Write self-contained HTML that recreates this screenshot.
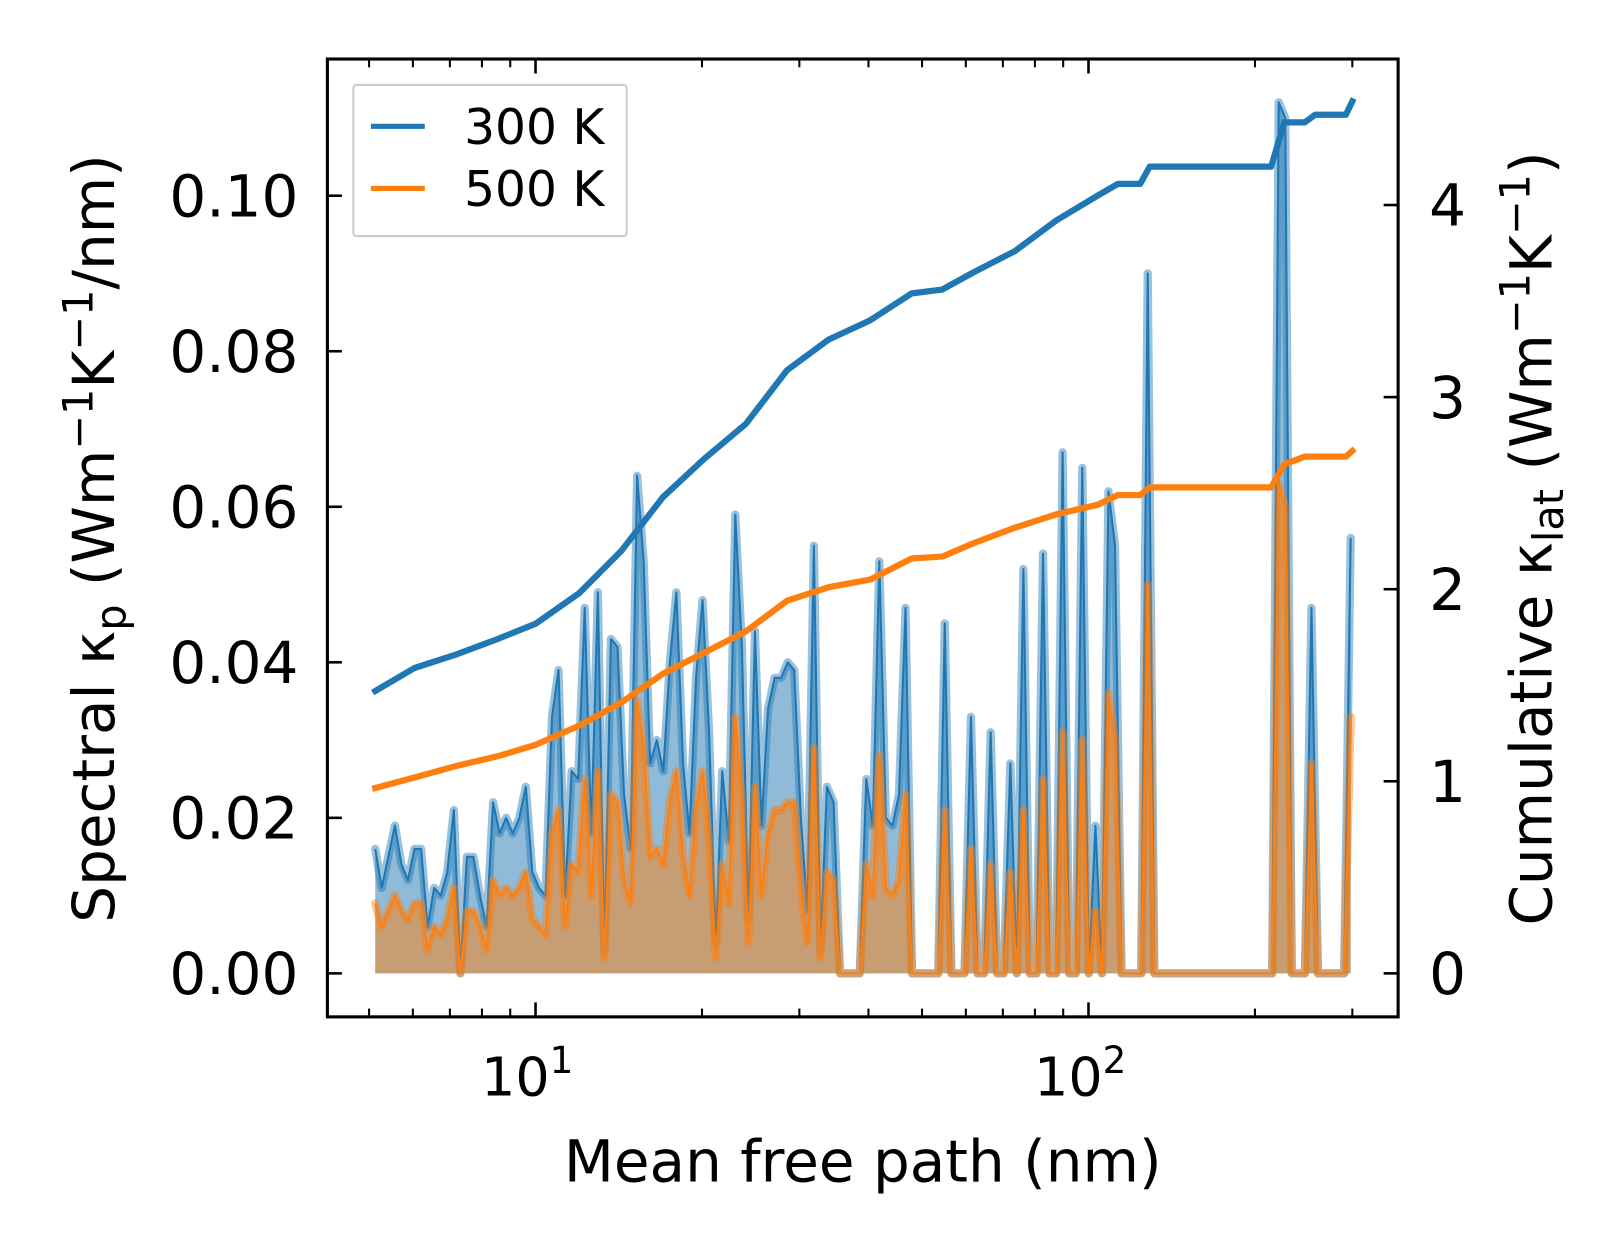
<!DOCTYPE html>
<html><head><meta charset="utf-8">
<style>
html,body{margin:0;padding:0;background:#fff;}
svg{display:block;font-family:"DejaVu Sans","Liberation Sans",sans-serif;}
</style></head>
<body>
<svg id="chart" width="1623" height="1254" viewBox="0 0 1567 1211" xmlns="http://www.w3.org/2000/svg">
<rect width="1567" height="1211" fill="#fff"/>
<g id="plot"></g>
<g id="axes"></g>
</svg>
<script>
// ---- data ----
const spectralMfpMin = 5.13;
const spectralMfpMax = 298;
const spectral300 = [0.016,0.011,0.015,0.019,0.014,0.012,0.016,0.016,0.006,0.011,0.010,0.013,0.021,0.000,0.015,0.015,0.010,0.006,0.022,0.018,
0.020,0.018,0.020,0.024,0.013,0.011,0.010,0.033,0.039,0.010,0.026,0.025,0.047,0.018,0.049,0.003,0.043,0.042,0.023,0.016,
0.064,0.053,0.027,0.030,0.026,0.040,0.049,0.027,0.018,0.038,0.048,0.031,0.004,0.026,0.017,0.059,0.042,0.007,0.044,0.019,
0.034,0.038,0.038,0.040,0.039,0.020,0.008,0.055,0.003,0.024,0.022,0.000,0.000,0.000,0.000,0.025,0.019,0.053,0.020,0.019,
0.023,0.047,0.000,0.000,0.000,0.000,0.000,0.045,0.000,0.000,0.000,0.033,0.000,0.000,0.031,0.000,0.000,0.027,0.000,0.052,
0.000,0.000,0.054,0.000,0.000,0.067,0.000,0.000,0.065,0.000,0.019,0.000,0.062,0.055,0.000,0.000,0.000,0.000,0.090,0.000,
0.000,0.000,0.000,0.000,0.000,0.000,0.000,0.000,0.000,0.000,0.000,0.000,0.000,0.000,0.000,0.000,0.000,0.000,0.112,0.110,
0.000,0.000,0.000,0.047,0.000,0.000,0.000,0.000,0.000,0.056];
const spectral500 = [0.009,0.006,0.008,0.010,0.008,0.007,0.009,0.009,0.003,0.006,0.005,0.007,0.011,0.000,0.008,0.008,0.006,0.003,0.012,0.010,
0.011,0.010,0.011,0.013,0.007,0.006,0.005,0.018,0.021,0.006,0.014,0.013,0.025,0.010,0.026,0.002,0.023,0.022,0.012,0.009,
0.035,0.029,0.015,0.016,0.014,0.022,0.026,0.015,0.010,0.021,0.026,0.017,0.002,0.014,0.009,0.033,0.022,0.004,0.024,0.010,
0.018,0.021,0.021,0.022,0.022,0.011,0.004,0.029,0.002,0.013,0.012,0.000,0.000,0.000,0.000,0.014,0.010,0.028,0.011,0.010,
0.012,0.023,0.000,0.000,0.000,0.000,0.000,0.021,0.000,0.000,0.000,0.016,0.000,0.000,0.014,0.000,0.000,0.013,0.000,0.021,
0.000,0.000,0.025,0.000,0.000,0.031,0.000,0.000,0.030,0.000,0.008,0.000,0.036,0.030,0.000,0.000,0.000,0.000,0.050,0.000,
0.000,0.000,0.000,0.000,0.000,0.000,0.000,0.000,0.000,0.000,0.000,0.000,0.000,0.000,0.000,0.000,0.000,0.000,0.063,0.060,
0.000,0.000,0.000,0.027,0.000,0.000,0.000,0.000,0.000,0.033];
const cumMfp = [5.13,6.04,7.18,8.53,10,12.0,14.3,17.0,20.2,24.0,28.5,33.9,40.3,47.9,54.4,62.0,73.6,87.5,104,113,124,129,214,226,246,257,292,300];
const cum300 = [1.47,1.59,1.66,1.74,1.82,1.98,2.20,2.48,2.68,2.86,3.14,3.30,3.40,3.54,3.56,3.65,3.76,3.92,4.05,4.11,4.11,4.20,4.20,4.43,4.43,4.47,4.47,4.54];
const cum500 = [0.965,1.02,1.08,1.13,1.19,1.29,1.41,1.56,1.67,1.78,1.94,2.01,2.05,2.16,2.17,2.24,2.32,2.39,2.44,2.49,2.49,2.53,2.53,2.65,2.69,2.69,2.69,2.72];
const leftTicks = [0,0.02,0.04,0.06,0.08,0.10];
const leftTickLabels = ["0.00","0.02","0.04","0.06","0.08","0.10"];
const rightTicks = [0,1,2,3,4];
const xMajor = [10,100];
const xMinor = [5,6,7,8,9,20,30,40,50,60,70,80,90,200,300];

// ---- axes functions ----
const L=316,R=1350,T=57,B=982;
const xs = v => 517 + (Math.log10(v)-1)*534;
const yl = v => 940 - v*7510;
const yr = v => 940 - v*185.5;
const NS="http://www.w3.org/2000/svg";
const plot=document.getElementById('plot');
const axes=document.getElementById('axes');
function mk(tag,attrs,parent){const e=document.createElementNS(NS,tag);for(const k in attrs)e.setAttribute(k,attrs[k]);parent.appendChild(e);return e;}

const n=spectral300.length;
const lmin=Math.log10(spectralMfpMin), lmax=Math.log10(spectralMfpMax);
const specX=spectral300.map((_,i)=>Math.pow(10,lmin+i*(lmax-lmin)/(n-1)));

function drawSpectral(vals,color,name){
  const pts=vals.map((v,i)=>xs(specX[i]).toFixed(1)+','+yl(v).toFixed(1));
  const fillD='M'+xs(specX[0]).toFixed(1)+','+yl(0)+' L'+pts.join(' L')+' L'+xs(specX[n-1]).toFixed(1)+','+yl(0)+'Z';
  const f=mk('path',{d:fillD,fill:color,'fill-opacity':0.5,stroke:'none'},plot);
  
  
  const o=mk('polyline',{points:pts.join(' '),fill:'none',stroke:color,'stroke-opacity':0.45,'stroke-width':8,'stroke-linejoin':'round','stroke-linecap':'round'},plot);
  
  
  const l=mk('polyline',{points:pts.join(' '),fill:'none',stroke:color,'stroke-width':2,'stroke-linejoin':'round'},plot);
  
  
}
drawSpectral(spectral300,'#1f77b4','spectral-300k');
drawSpectral(spectral500,'#ff7f0e','spectral-500k');

function drawCum(vals,color,name){
  const pts=vals.map((v,i)=>xs(cumMfp[i]).toFixed(1)+','+yr(v).toFixed(1));
  const l=mk('polyline',{points:pts.join(' '),fill:'none',stroke:color,'stroke-width':6,'stroke-linejoin':'round','stroke-linecap':'square'},plot);
  
  
}
drawCum(cum300,'#1f77b4','cumulative-300k');
drawCum(cum500,'#ff7f0e','cumulative-500k');

const fr=mk('rect',{x:L,y:T,width:R-L,height:B-T,fill:'none',stroke:'#000','stroke-width':3},axes);



leftTicks.forEach((v,i)=>{
  const y=yl(v);
  mk('line',{x1:L,x2:L+14,y1:y,y2:y,stroke:'#000','stroke-width':2.5},axes);
  const t=mk('text',{x:L-28,y:y+20,'text-anchor':'end','font-size':56,fill:'#000'},axes);
  t.textContent=leftTickLabels[i];
  
  
});
rightTicks.forEach(v=>{
  const y=yr(v);
  mk('line',{x1:R-14,x2:R,y1:y,y2:y,stroke:'#000','stroke-width':2.5},axes);
  const t=mk('text',{x:R+30,y:y+20,'text-anchor':'start','font-size':56,fill:'#000'},axes);
  t.textContent=String(v);
  
  
});
xMajor.forEach(v=>{
  const x=xs(v);
  mk('line',{x1:x,x2:x,y1:B,y2:B-14,stroke:'#000','stroke-width':2.5},axes);
  mk('line',{x1:x,x2:x,y1:T,y2:T+14,stroke:'#000','stroke-width':2.5},axes);
  const t=mk('text',{x:x-8,y:1058,'text-anchor':'middle','font-size':52,fill:'#000'},axes);
  t.textContent='10';
  const s=mk('tspan',{dy:-22,'font-size':36},t);
  s.textContent=String(Math.round(Math.log10(v)));
  
  
});
xMinor.forEach(v=>{
  const x=xs(v);
  mk('line',{x1:x,x2:x,y1:B,y2:B-8,stroke:'#000','stroke-width':2},axes);
  mk('line',{x1:x,x2:x,y1:T,y2:T+8,stroke:'#000','stroke-width':2},axes);
});
</script>
<div style="position:absolute;left:0;top:0;width:1623px;height:1254px;pointer-events:none;">
<svg width="1623" height="1254" viewBox="0 0 1567 1211" style="position:absolute;left:0;top:0;font-family:'DejaVu Sans','Liberation Sans',sans-serif;">
  <text x="833" y="1141" text-anchor="middle" font-size="56">Mean free path (nm)</text>
  <text transform="translate(110,520) rotate(-90)" text-anchor="middle" font-size="56">Spectral κ<tspan font-size="40" dy="11">p</tspan><tspan dy="-11"> (Wm</tspan><tspan font-size="40" dy="-21">−1</tspan><tspan dy="21">K</tspan><tspan font-size="40" dy="-21">−1</tspan><tspan dy="21">/nm)</tspan></text>
  <text transform="translate(1498,520) rotate(-90)" text-anchor="middle" font-size="56">Cumulative κ<tspan font-size="40" dy="11">lat</tspan><tspan dy="-11"> (Wm</tspan><tspan font-size="40" dy="-21">−1</tspan><tspan dy="21">K</tspan><tspan font-size="40" dy="-21">−1</tspan><tspan dy="21">)</tspan></text>
  <g>
    <rect x="341" y="82" width="264" height="146" fill="#fff" fill-opacity="0.8" stroke="#ccc" stroke-width="2" rx="3"/>
    <line x1="358" y1="122" x2="410" y2="122" stroke="#1f77b4" stroke-width="5"/>
    <text x="448" y="139" font-size="47">300 K</text>
    <line x1="358" y1="182" x2="410" y2="182" stroke="#ff7f0e" stroke-width="5"/>
    <text x="448" y="199" font-size="47">500 K</text>
  </g>
</svg>
</div>
</body></html>
